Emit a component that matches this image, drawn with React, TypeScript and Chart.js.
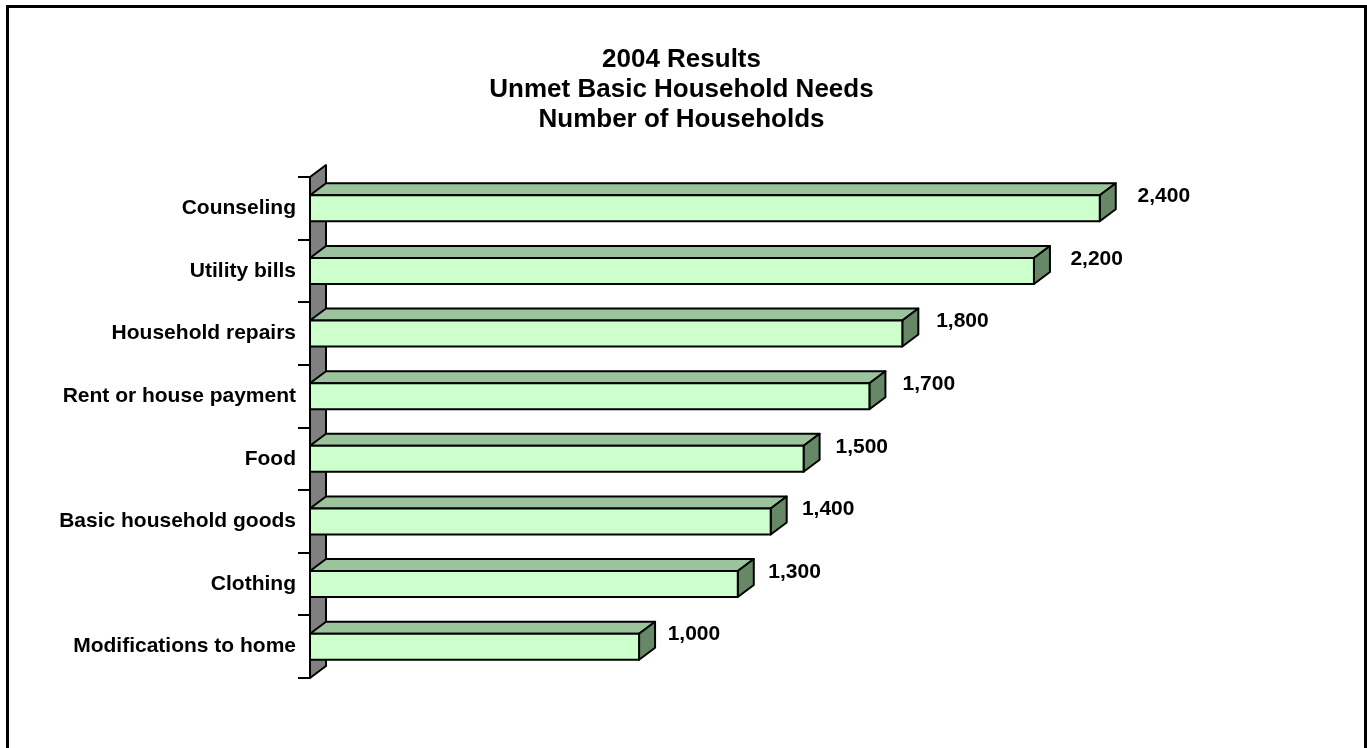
import React, { useEffect, useRef } from 'react';
import { Chart, registerables } from 'chart.js';

Chart.register(...registerables);

const categories = [
  'Counseling',
  'Utility bills',
  'Household repairs',
  'Rent or house payment',
  'Food',
  'Basic household goods',
  'Clothing',
  'Modifications to home',
];
const households = [2400, 2200, 1800, 1700, 1500, 1400, 1300, 1000];
const valueLabels = ['2,400', '2,200', '1,800', '1,700', '1,500', '1,400', '1,300', '1,000'];
const titleLines = ['2004 Results', 'Unmet Basic Household Needs', 'Number of Households'];
const axisMax = 3200;

const FONT = '"Liberation Sans", Arial, Helvetica, sans-serif';
const DX = 16;
const DY = 12;
const FRONT = '#CCFFCC';
const TOP = '#9CC49C';
const SIDE = '#678867';
const WALL = '#808080';

const bar3d = {
  id: 'bar3d',
  beforeDraw(chart: any) {
    const ctx = chart.ctx;
    ctx.save();
    ctx.fillStyle = '#fff';
    ctx.fillRect(0, 0, chart.width, chart.height);
    ctx.strokeStyle = '#000';
    ctx.lineWidth = 3;
    ctx.strokeRect(7.5, 6.5, chart.width - 9, chart.height + 40);
    ctx.restore();
  },
  beforeDatasetsDraw(chart: any) {
    const ctx = chart.ctx;
    const a = chart.chartArea;
    ctx.save();
    ctx.beginPath();
    ctx.moveTo(a.left, a.top);
    ctx.lineTo(a.left + DX, a.top - DY);
    ctx.lineTo(a.left + DX, a.bottom - DY);
    ctx.lineTo(a.left, a.bottom);
    ctx.closePath();
    ctx.fillStyle = WALL;
    ctx.fill();
    ctx.strokeStyle = '#000';
    ctx.lineWidth = 2;
    ctx.lineJoin = 'round';
    ctx.stroke();
    ctx.restore();
  },
  afterDatasetsDraw(chart: any) {
    const ctx = chart.ctx;
    const meta = chart.getDatasetMeta(0);
    ctx.save();
    ctx.strokeStyle = '#000';
    ctx.lineWidth = 2;
    ctx.lineJoin = 'round';
    meta.data.forEach((el: any, i: number) => {
      const { x, y, base, height } = el.getProps(['x', 'y', 'base', 'height'], true);
      const top = y - height / 2;
      const bottom = y + height / 2;
      // top face
      ctx.beginPath();
      ctx.moveTo(base, top);
      ctx.lineTo(base + DX, top - DY);
      ctx.lineTo(x + DX, top - DY);
      ctx.lineTo(x, top);
      ctx.closePath();
      ctx.fillStyle = TOP;
      ctx.fill();
      ctx.stroke();
      // right face
      ctx.beginPath();
      ctx.moveTo(x, top);
      ctx.lineTo(x + DX, top - DY);
      ctx.lineTo(x + DX, bottom - DY);
      ctx.lineTo(x, bottom);
      ctx.closePath();
      ctx.fillStyle = SIDE;
      ctx.fill();
      ctx.stroke();
      // front face
      ctx.beginPath();
      ctx.rect(base, top, x - base, height);
      ctx.fillStyle = FRONT;
      ctx.fill();
      ctx.stroke();
      // value label
      ctx.fillStyle = '#000';
      ctx.font = `bold 21px ${FONT}`;
      ctx.textAlign = 'left';
      ctx.textBaseline = 'middle';
      const lx = base + (x - base) * 1.02 + 22;
      ctx.fillText(valueLabels[i], lx, top + 1);
    });
    ctx.restore();
  },
};

export default function App() {
  const ref = useRef<HTMLCanvasElement | null>(null);

  useEffect(() => {
    if (!ref.current) return;
    const chart = new Chart(ref.current, {
      type: 'bar',
      data: {
        labels: categories,
        datasets: [
          {
            label: 'Number of Households',
            data: households,
            backgroundColor: 'rgba(0,0,0,0)',
            borderWidth: 0,
            barThickness: 26,
          },
        ],
      },
      options: {
        indexAxis: 'y',
        responsive: false,
        animation: false,
        devicePixelRatio: 1,
        layout: { padding: { left: 0, right: 4, top: 0, bottom: 70 } },
        scales: {
          x: { display: false, min: 0, max: axisMax },
          y: {
            afterFit: (scale: any) => {
              scale.width = 310;
            },
            grid: {
              display: true,
              drawOnChartArea: false,
              drawTicks: true,
              tickLength: 12,
              color: '#000',
              lineWidth: 2,
              offset: true,
            },
            border: { display: false },
            ticks: {
              autoSkip: false,
              padding: 2,
              color: '#000',
              font: { size: 21, weight: 'bold', family: FONT },
            },
          },
        },
        plugins: {
          legend: { display: false },
          tooltip: { enabled: false },
          title: {
            display: true,
            text: titleLines,
            color: '#000',
            font: { size: 26, weight: 'bold', family: FONT, lineHeight: 30 / 26 },
            padding: { top: 45, bottom: 42 },
          },
        },
      },
      plugins: [bar3d],
    });
    return () => chart.destroy();
  }, []);

  return (
    <div style={{ position: 'absolute', left: 0, top: 0, width: 1367, height: 748, background: '#fff' }}>
      <canvas ref={ref} width={1367} height={748} style={{ display: 'block' }} />
    </div>
  );
}
